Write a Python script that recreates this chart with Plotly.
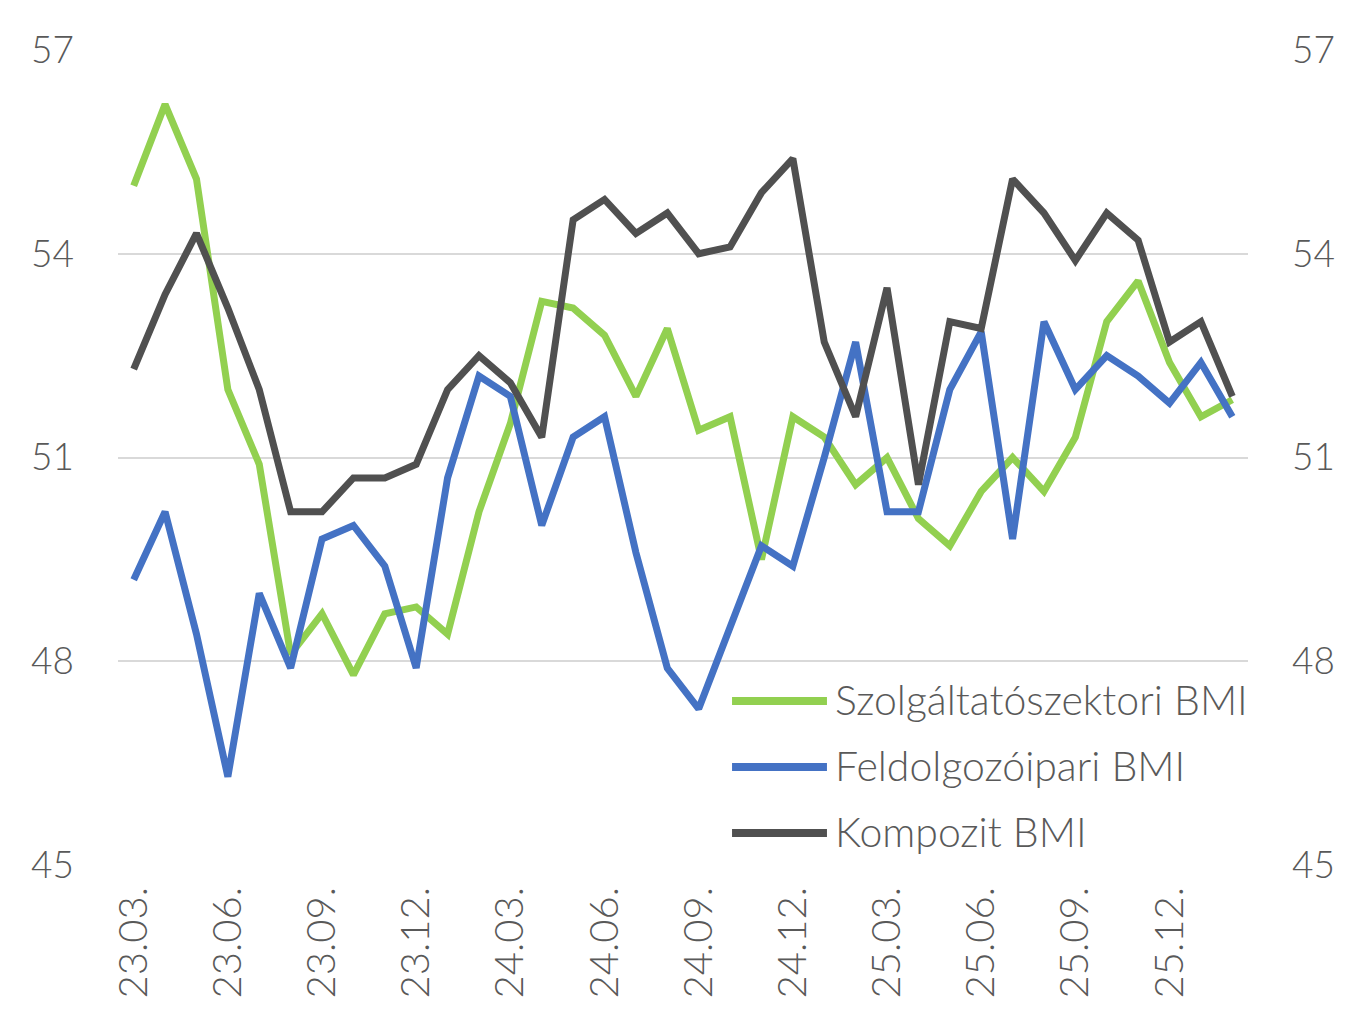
import plotly.graph_objects as go

months = list(range(36))
tick_positions = [0, 3, 6, 9, 12, 15, 18, 21, 24, 27, 30, 33]
tick_labels = ["23.03.", "23.06.", "23.09.", "23.12.", "24.03.", "24.06.",
               "24.09.", "24.12.", "25.03.", "25.06.", "25.09.", "25.12."]

szolg = [55.0, 56.2, 55.1, 52.0, 50.9, 48.1, 48.7, 47.8, 48.7, 48.8, 48.4, 50.2,
         51.5, 53.3, 53.2, 52.8, 51.9, 52.9, 51.4, 51.6, 49.5, 51.6, 51.3, 50.6,
         51.0, 50.1, 49.7, 50.5, 51.0, 50.5, 51.3, 53.0, 53.6, 52.4, 51.6, 51.85]
feldolg = [49.2, 50.2, 48.4, 46.3, 49.0, 47.9, 49.8, 50.0, 49.4, 47.9, 50.7, 52.2,
           51.9, 50.0, 51.3, 51.6, 49.6, 47.9, 47.3, 48.5, 49.7, 49.4, 51.0, 52.7,
           50.2, 50.2, 52.0, 52.85, 49.8, 53.0, 52.0, 52.5, 52.2, 51.8, 52.4, 51.6]
kompozit = [52.3, 53.4, 54.3, 53.2, 52.0, 50.2, 50.2, 50.7, 50.7, 50.9, 52.0, 52.5,
            52.1, 51.3, 54.5, 54.8, 54.3, 54.6, 54.0, 54.1, 54.9, 55.4, 52.7, 51.6,
            53.5, 50.6, 53.0, 52.9, 55.1, 54.6, 53.9, 54.6, 54.2, 52.7, 53.0, 51.9]

series_names = ["Szolgáltatószektori BMI", "Feldolgozóipari BMI", "Kompozit BMI"]
series_values = [szolg, feldolg, kompozit]
series_colors = ["#92D050", "#4472C4", "#505050"]

y_ticks = [45, 48, 51, 54, 57]

FONT = "Lato"
TXT = "#595959"

fig = go.Figure()
for name, vals, col in zip(series_names, series_values, series_colors):
    fig.add_trace(go.Scatter(x=months, y=vals, mode="lines", name=name,
                             line=dict(color=col, width=7), showlegend=False))
# invisible trace on right axis for mirrored tick labels
fig.add_trace(go.Scatter(x=[months[0]], y=[y_ticks[0]], yaxis="y2", mode="lines",
                         line=dict(width=0), showlegend=False, hoverinfo="skip"))

# custom legend
legend_y = [0.2012, 0.1202, 0.0393]
for name, col, ly in zip(series_names, series_colors, legend_y):
    fig.add_shape(type="line", xref="paper", yref="paper", x0=0.5434, x1=0.6274,
                  y0=ly, y1=ly, line=dict(color=col, width=8))
    fig.add_annotation(xref="paper", yref="paper", x=0.6325, y=ly + 0.002, text=name,
                       showarrow=False, xanchor="left", yanchor="middle",
                       font=dict(family=FONT, size=41, color=TXT, weight=300))

fig.update_layout(
    width=1367, height=1031,
    margin=dict(l=118, r=119, t=50, b=166),
    plot_bgcolor="white", paper_bgcolor="white",
    font=dict(family=FONT, color=TXT, weight=300),
    xaxis=dict(range=[-0.5, 35.5], tickmode="array", tickvals=tick_positions,
               ticktext=tick_labels, tickangle=-90, showgrid=False, zeroline=False,
               showline=False, ticks="", ticklabelstandoff=13,
               tickfont=dict(family=FONT, size=40, color=TXT, weight=300)),
    yaxis=dict(range=[45, 57], tickmode="array", tickvals=y_ticks,
               showgrid=True, gridcolor="#D9D9D9", gridwidth=2, zeroline=False,
               showline=False, ticks="", ticklabelstandoff=43,
               tickfont=dict(family=FONT, size=37, color=TXT, weight=300)),
    yaxis2=dict(range=[45, 57], tickmode="array", tickvals=y_ticks, overlaying="y",
                side="right", showgrid=False, zeroline=False, showline=False,
                ticks="", ticklabelstandoff=43,
                tickfont=dict(family=FONT, size=37, color=TXT, weight=300)),
)

fig.write_html("out.html")
